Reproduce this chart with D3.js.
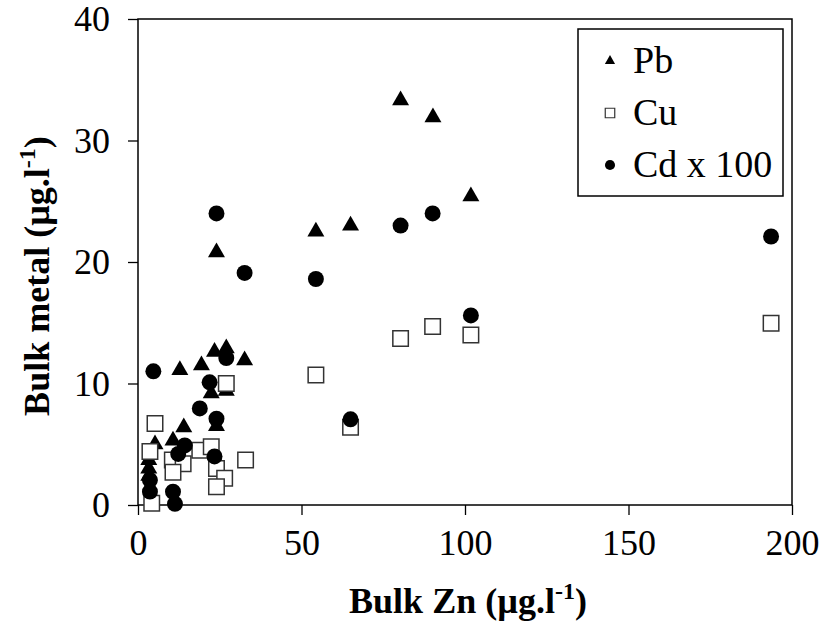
<!DOCTYPE html>
<html><head><meta charset="utf-8">
<script src="https://cdn.jsdelivr.net/npm/d3@7"></script>
<style>body{margin:0;background:#fff}svg{display:block}text{font-family:"Liberation Serif","Times New Roman",serif;fill:#000}</style>
</head><body><svg id="c" width="823" height="622"></svg>
<script>
const pbZn = [80.3, 90.2, 101.8, 54.4, 65, 24, 32.6, 27, 23.4, 19.4, 12.8, 22.4, 27, 24, 14, 10.7, 5.2, 3.3, 3.3, 3.3];
const pbVal = [33.3, 31.9, 25.4, 22.5, 23.0, 20.8, 11.9, 12.9, 12.6, 11.5, 11.1, 9.2, 9.4, 6.5, 6.4, 5.3, 5.0, 3.7, 3.0, 2.4];
const cuZn = [3.65, 5.2, 4.2, 10.5, 13.8, 10.7, 18.9, 22.4, 24, 26.5, 24, 32.9, 27, 54.4, 65, 80.3, 90.1, 101.8, 193.6];
const cuVal = [4.4, 6.7, 0.15, 3.7, 3.4, 2.7, 4.5, 4.8, 3.0, 2.2, 1.5, 3.7, 10.0, 10.7, 6.4, 13.7, 14.7, 14.0, 14.95];
const cdZn = [24, 32.6, 54.4, 80.3, 90.1, 101.8, 193.6, 65, 27, 4.7, 21.9, 18.9, 24, 14.3, 12.3, 23.4, 3.65, 3.65, 10.7, 11.3];
const cdVal = [24.0, 19.1, 18.6, 23.0, 24.0, 15.6, 22.1, 7.05, 12.1, 11.0, 10.1, 7.95, 7.1, 4.9, 4.2, 4.0, 2.05, 1.1, 1.1, 0.1];
const xTicks = [0, 50, 100, 150, 200];
const yTicks = [0, 10, 20, 30, 40];
const seriesNames = ["Pb", "Cu", "Cd x 100"];

const svg = d3.select("#c");
const L = 138, R = 792, T = 19, B = 505;
const x = d3.scaleLinear().domain([0, 200]).range([L, R]);
const y = d3.scaleLinear().domain([0, 40]).range([B, T]);

// frame
svg.append("rect").attr("x", L).attr("y", T).attr("width", R - L).attr("height", B - T)
  .attr("fill", "none").attr("stroke", "#000").attr("stroke-width", 1.5);

const xAxis = svg.append("g").attr("transform", `translate(0,${B})`)
  .call(d3.axisBottom(x).tickValues(xTicks).tickSize(10).tickPadding(14).tickFormat(d3.format("d")));
const yAxis = svg.append("g").attr("transform", `translate(${L},0)`)
  .call(d3.axisLeft(y).tickValues(yTicks).tickSize(10).tickPadding(18).tickFormat(d3.format("d")));
[xAxis, yAxis].forEach(a => {
  a.select(".domain").remove();
  a.selectAll("line").attr("stroke", "#000").attr("stroke-width", 1.3);
  a.selectAll("text").attr("font-size", 36).attr("font-family", "Liberation Serif").attr("fill", "#000");
});

const tri = d3.symbol().type(d3.symbolTriangle).size(125);
const sq = d3.symbol().type(d3.symbolSquare).size(240);
const cir = d3.symbol().type(d3.symbolCircle).size(200);

svg.append("g").selectAll("path").data(d3.range(pbZn.length)).join("path")
  .attr("d", tri).attr("transform", i => `translate(${x(pbZn[i])},${y(pbVal[i])})`).attr("fill", "#000");
svg.append("g").selectAll("path").data(d3.range(cuZn.length)).join("path")
  .attr("d", sq).attr("transform", i => `translate(${x(cuZn[i])},${y(cuVal[i])})`)
  .attr("fill", "#fff").attr("stroke", "#333").attr("stroke-width", 1.5);
svg.append("g").selectAll("path").data(d3.range(cdZn.length)).join("path")
  .attr("d", cir).attr("transform", i => `translate(${x(cdZn[i])},${y(cdVal[i])})`).attr("fill", "#000");

// legend
const lg = svg.append("g");
lg.append("rect").attr("x", 578).attr("y", 29).attr("width", 205).attr("height", 167)
  .attr("fill", "#fff").attr("stroke", "#000").attr("stroke-width", 1.5);
const legSyms = [
  d3.symbol().type(d3.symbolTriangle).size(45),
  d3.symbol().type(d3.symbolSquare).size(90),
  d3.symbol().type(d3.symbolCircle).size(80)
];
seriesNames.forEach((n, i) => {
  const cy = 61 + i * 52;
  const p = lg.append("path").attr("d", legSyms[i]).attr("transform", `translate(610,${cy})`);
  if (i === 1) p.attr("fill", "#fff").attr("stroke", "#333").attr("stroke-width", 1.2);
  else p.attr("fill", "#000");
  lg.append("text").attr("x", 633).attr("y", cy + 12).attr("font-size", 38).text(n);
});

// axis titles
const xt = svg.append("text").attr("x", 468).attr("y", 613).attr("text-anchor", "middle")
  .attr("font-size", 36).attr("font-weight", "bold");
xt.append("tspan").text("Bulk Zn (µg.l");
xt.append("tspan").attr("dy", -14).attr("font-size", 24).text("-1");
xt.append("tspan").attr("dy", 14).text(")");

const yt = svg.append("text").attr("transform", `translate(49,${276}) rotate(-90)`).attr("text-anchor", "middle")
  .attr("font-size", 36).attr("font-weight", "bold");
yt.append("tspan").text("Bulk metal (µg.l");
yt.append("tspan").attr("dy", -14).attr("font-size", 24).text("-1");
yt.append("tspan").attr("dy", 14).text(")");
</script></body></html>
